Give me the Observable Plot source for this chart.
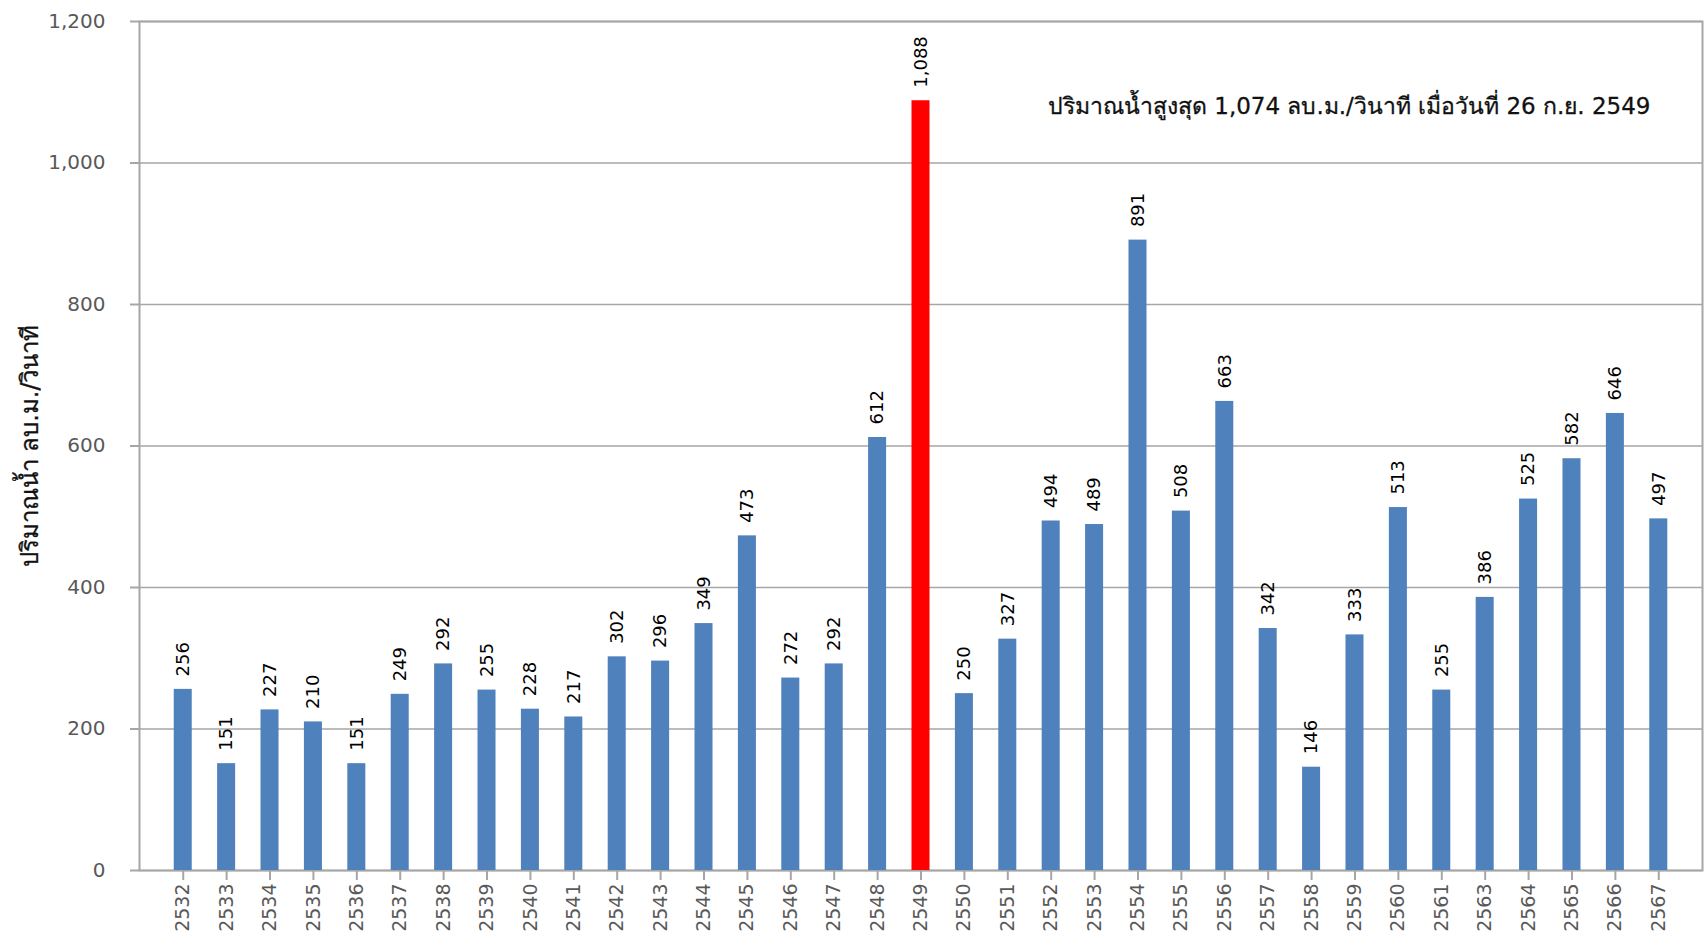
<!DOCTYPE html>
<html>
<head>
<meta charset="utf-8">
<script src="https://cdn.jsdelivr.net/npm/d3@7"></script>
<script src="https://cdn.jsdelivr.net/npm/@observablehq/plot@0.6"></script>
<style>
  html, body { margin: 0; padding: 0; background: #ffffff; }
  #chart svg { display: block; }
</style>
</head>
<body>
<div id="chart"></div>
<script>
const years = ["2532","2533","2534","2535","2536","2537","2538","2539","2540","2541",
  "2542","2543","2544","2545","2546","2547","2548","2549","2550","2551",
  "2552","2553","2554","2555","2556","2557","2558","2559","2560","2561",
  "2563","2564","2565","2566","2567"];
const flow = [256,151,227,210,151,249,292,255,228,217,
  302,296,349,473,272,292,612,1088,250,327,
  494,489,891,508,663,342,146,333,513,255,
  386,525,582,646,497];
const peakYear = "2549";
const yTicks = [0,200,400,600,800,1000,1200];
const yTitle = "ปริมาณน้ำ ลบ.ม./วินาที";
const note = ["ปริมาณน้ำสูงสุด 1,074 ลบ.ม./วินาที เมื่อวันที่ 26 ก.ย. 2549"];

const data = years.map((y, i) => ({year: y, flow: flow[i]}));
const fmt = d3.format(",");
const gray = "#a6a6a6";

const chart = Plot.plot({
  width: 1705,
  height: 936,
  marginLeft: 139,
  marginRight: 3,
  marginTop: 21,
  marginBottom: 66,
  style: {fontFamily: "'DejaVu Sans', sans-serif", background: "#ffffff", color: "#595959"},
  x: {domain: years, paddingInner: 0.585, paddingOuter: 0.8, round: false, label: null},
  y: {domain: [0, 1200], label: null},
  marks: [
    Plot.gridY(yTicks, {stroke: gray, strokeOpacity: 1, strokeWidth: 1.5}),
    Plot.frame({stroke: gray, strokeWidth: 2}),
    Plot.barY(data, {
      x: "year", y: "flow",
      fill: d => d.year === peakYear ? "#ff0000" : "#4f81bd"
    }),
    Plot.text(data, {
      x: "year", y: "flow", text: d => fmt(d.flow),
      rotate: -90, textAnchor: "start", dy: -13,
      fontSize: 18, fill: "#000000"
    }),
    Plot.axisY({ticks: yTicks, tickFormat: fmt, tickSize: 9, tickPadding: 25,
      stroke: gray, strokeWidth: 2, fill: "#595959", fontSize: 20, label: null}),
    Plot.axisX({tickSize: 10, tickPadding: 3, tickRotate: -90,
      stroke: gray, strokeWidth: 2, fill: "#595959", fontSize: 19, label: null}),
    Plot.text([yTitle], {
      text: d => d, frameAnchor: "left", rotate: -90, dx: -109,
      textAnchor: "middle", fontSize: 24, fill: "#111111", stroke: "#111111", strokeWidth: 0.3
    }),
    Plot.text(note, {
      text: d => d, frameAnchor: "top-right", textAnchor: "end",
      dx: -52, dy: 76, fontSize: 23, fill: "#111111", stroke: "#111111", strokeWidth: 0.3
    })
  ]
});
document.getElementById("chart").appendChild(chart);
</script>
</body>
</html>
